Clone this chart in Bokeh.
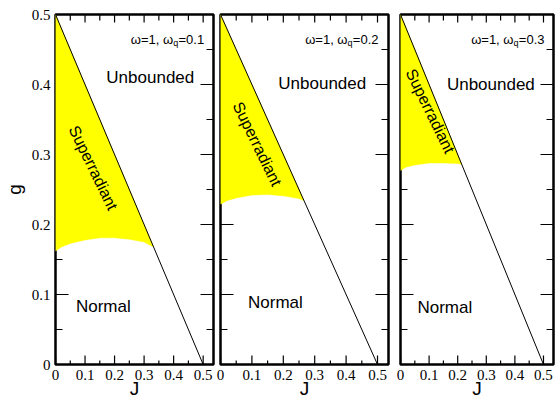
from bokeh.plotting import figure
from bokeh.layouts import row
from bokeh.models import Range1d, FixedTicker, Label
from bokeh.embed import file_html
from bokeh.resources import INLINE
from bokeh.core.properties import value

# ---------------- data ----------------
omega_q_values = ["0.1", "0.2", "0.3"]

J_ticks = [0, 0.1, 0.2, 0.3, 0.4, 0.5]
J_tick_labels = ["0", "0.1", "0.2", "0.3", "0.4", "0.5"]
J_minor = [0.05, 0.15, 0.25, 0.35, 0.45]
g_ticks = [0, 0.1, 0.2, 0.3, 0.4, 0.5]
g_tick_labels = ["0", "0.1", "0.2", "0.3", "0.4", "0.5"]
g_minor = [0.05, 0.15, 0.25, 0.35, 0.45]

# unbounded boundary line g = 0.5 - J
boundary_J = [0.0, 0.5]
boundary_g = [0.5, 0.0]

# lower edge of the superradiant (yellow) region
sr_J_1 = [0.0, 0.02, 0.05, 0.1, 0.15, 0.2, 0.25, 0.3, 0.332]
sr_g_1 = [0.162, 0.168, 0.173, 0.178, 0.181, 0.181, 0.179, 0.175, 0.168]
sr_J_2 = [0.0, 0.02, 0.05, 0.1, 0.15, 0.2, 0.25, 0.266]
sr_g_2 = [0.229, 0.234, 0.238, 0.242, 0.243, 0.241, 0.237, 0.234]
sr_J_3 = [0.0, 0.02, 0.05, 0.1, 0.15, 0.2, 0.214]
sr_g_3 = [0.277, 0.282, 0.285, 0.288, 0.288, 0.287, 0.286]

sr_J = [sr_J_1, sr_J_2, sr_J_3]
sr_g = [sr_g_1, sr_g_2, sr_g_3]
top_corner_J = 0.0
top_corner_g = 0.5

# phase label anchor positions (J, g)
unbounded_J = [0.321, 0.324, 0.316]
unbounded_g = [0.41, 0.402, 0.40]
normal_J = [0.162, 0.175, 0.155]
normal_g = [0.083, 0.088, 0.082]
superrad_J = [0.128, 0.117, 0.104]
superrad_g = [0.281, 0.315, 0.362]
title_J = [0.5, 0.5, 0.5]
title_g = [0.465, 0.465, 0.465]

# ---------------- layout / style ----------------
J_min, J_max = 0.0, 0.535
g_min, g_max = 0.0, 0.5
frame_widths = [158, 168, 153]
frame_h = 350
borders_left = [55, 4, 6]
borders_right = [3, 6, 3]
sans = "Liberation Sans"
serif = "Liberation Serif"


def tick_marks(p, fw):
    """Inward tick marks on the four frame edges (lengths in pixels), one multi_line."""
    px_x = (J_max - J_min) / fw        # J per pixel
    px_y = (g_max - g_min) / frame_h   # g per pixel
    xs, ys = [], []
    for ticks, length in ((g_ticks, 13), (g_minor, 7)):
        for t in ticks:
            xs.append([J_min, J_min + length * px_x]); ys.append([t, t])
            xs.append([J_max, J_max - length * px_x]); ys.append([t, t])
    for ticks, lb, lt in ((J_ticks, 9, 8), (J_minor, 4, 6)):
        for t in ticks:
            xs.append([t, t]); ys.append([g_min, g_min + lb * px_y])
            xs.append([t, t]); ys.append([g_max, g_max - lt * px_y])
    p.multi_line(xs, ys, line_color="black", line_width=1.2)


plots = []
for i in range(3):
    p = figure(frame_width=frame_widths[i], frame_height=frame_h,
               x_range=Range1d(J_min, J_max), y_range=Range1d(g_min, g_max),
               output_backend="svg", toolbar_location=None,
               min_border_left=borders_left[i], min_border_right=borders_right[i],
               min_border_top=14, min_border_bottom=30)
    p.xgrid.visible = False
    p.ygrid.visible = False
    p.background_fill_color = "white"
    p.border_fill_color = "white"
    p.outline_line_color = "black"
    p.outline_line_width = 2.5

    for ax, ticks, labels in ((p.xaxis[0], J_ticks, J_tick_labels),
                              (p.yaxis[0], g_ticks, g_tick_labels)):
        ax.ticker = FixedTicker(ticks=ticks, minor_ticks=[])
        ax.major_label_overrides = {t: l for t, l in zip(ticks, labels)}
        ax.axis_line_color = None
        ax.major_tick_line_color = None
        ax.minor_tick_line_color = None
        ax.major_tick_out = 0
        ax.major_tick_in = 0
        ax.minor_tick_out = 0
        ax.minor_tick_in = 0
        ax.major_label_text_font = serif
        ax.major_label_text_font_size = "15px"
        ax.major_label_text_color = "black"
        ax.major_label_standoff = 5

    xa = p.xaxis[0]
    xa.axis_label = "J"
    xa.axis_label_text_font = sans
    xa.axis_label_text_font_size = "19px"
    xa.axis_label_text_font_style = "normal"
    xa.axis_label_text_color = "black"
    xa.axis_label_standoff = -5

    if i == 0:
        ya = p.yaxis[0]
        ya.axis_label = "g"
        ya.axis_label_text_font = sans
        ya.axis_label_text_font_size = "19px"
        ya.axis_label_text_font_style = "normal"
        ya.axis_label_text_color = "black"
        ya.axis_label_standoff = 4
    else:
        p.yaxis[0].visible = False

    # inward ticks
    tick_marks(p, frame_widths[i])

    # yellow superradiant region
    xs = sr_J[i] + [top_corner_J]
    ys = sr_g[i] + [top_corner_g]
    p.patch(xs, ys, fill_color="#ffff00", line_color="#ffff00", line_width=0.5)
    # boundary line
    p.line(boundary_J, boundary_g, line_color="black", line_width=1)

    p.text(x=[unbounded_J[i]], y=[unbounded_g[i]], text=["Unbounded"],
           text_font=value(sans), text_font_size="17px", text_align="center",
           text_baseline="middle", text_color="black")
    p.text(x=[normal_J[i]], y=[normal_g[i]], text=["Normal"],
           text_font=value(sans), text_font_size="17px", text_align="center",
           text_baseline="middle", text_color="black")
    p.text(x=[superrad_J[i]], y=[superrad_g[i]], text=["Superradiant"],
           text_font=value(sans), text_font_size="16px", text_align="center",
           text_baseline="middle", text_color="black", angle=-1.117)

    # title: ω=1, ω_q=0.x
    p.add_layout(Label(x=title_J[i], y=title_g[i], x_offset=1, text="=" + omega_q_values[i],
                       text_align="right", text_baseline="alphabetic",
                       text_font=sans, text_font_size="13px", text_color="black"))
    p.add_layout(Label(x=title_J[i], y=title_g[i], x_offset=-25, y_offset=-4,
                       text="q", text_align="right", text_baseline="alphabetic",
                       text_font=sans, text_font_size="9px", text_color="black"))
    p.add_layout(Label(x=title_J[i], y=title_g[i], x_offset=-30,
                       text="ω=1, ω", text_align="right", text_baseline="alphabetic",
                       text_font=sans, text_font_size="13px", text_color="black"))
    plots.append(p)

layout = row(*plots)
open("out.html", "w").write(file_html(layout, INLINE))
